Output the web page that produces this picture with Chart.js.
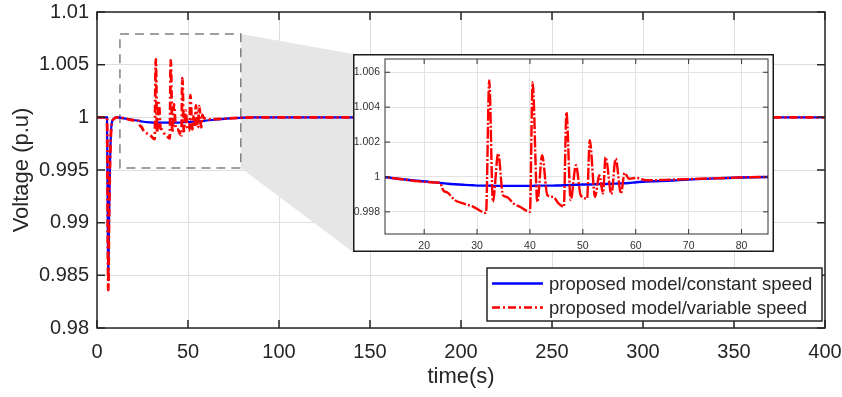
<!DOCTYPE html>
<html lang="en">
<head>
<meta charset="UTF-8">
<title>Voltage (p.u) vs time(s)</title>
<script src="https://cdn.jsdelivr.net/npm/chart.js"></script>
<style>
  html, body { margin: 0; padding: 0; background: #fff; }
  #wrap { position: relative; width: 842px; height: 397px; }
  #mainChart { position: absolute; left: 0; top: 0; }
  #inset { position: absolute; left: 353px; top: 54px; width: 421px; height: 198px; background: #fff; }
</style>
</head>
<body>
<div id="wrap">
  <canvas id="mainChart" width="842" height="397"></canvas>
  <div id="inset"><canvas id="insetChart" width="421" height="198"></canvas></div>
</div>

<script>
    // time axis (s) and the two voltage traces
    const timeS = [0, 5.5, 5.9, 6.2, 6.6, 7.2, 8.0, 9.0, 10.5, 12.6, 15, 18, 21, 23,
        23.6, 24.5, 25.8, 27.4, 29.3, 31.7, 32.3, 33.0, 34.0, 34.9, 35.6, 36.9, 38.1,
        40.0, 40.5, 41.4, 42.3, 43.3, 44.4, 45.4, 46.4, 46.9, 47.7, 48.7, 49.6, 50.8,
        51.3, 52.3, 53.1, 53.8, 54.3, 55.4, 56.2, 57.2, 57.9, 58.7, 60.1, 62, 67, 75,
        85, 150, 250, 400];

    const constantSpeed = [1.0, 1.0, 0.990, 0.9845, 0.990, 0.996, 0.9993, 0.9998, 1.0,
        0.99998, 0.9999, 0.9998, 0.99972, 0.99966,
        0.99964, 0.99961, 0.99958, 0.99955, 0.99952, 0.9995, 0.9995, 0.99949, 0.99949,
        0.99949, 0.99949, 0.99949, 0.99949, 0.99949, 0.99949, 0.9995, 0.9995, 0.9995,
        0.9995, 0.99951, 0.99952, 0.99953, 0.99954, 0.99955, 0.99956, 0.99957, 0.99957,
        0.99958, 0.99959, 0.9996, 0.9996, 0.99961, 0.99962, 0.99963, 0.99964, 0.99965,
        0.9997, 0.99973, 0.9998, 0.99992, 1.0, 1.0, 1.0, 1.0];

    const variableSpeed = [1.0, 1.0, 0.990, 0.9836, 0.990, 0.996, 0.9993, 0.9998, 1.0,
        0.99998, 0.9999, 0.99978, 0.9997, 0.99966,
        0.99924, 0.99909, 0.99867, 0.99848, 0.99829, 0.99794, 1.00553, 0.99857, 1.00134,
        0.99895, 0.99886, 0.99848, 0.99829, 0.998, 1.00543, 0.99857, 1.00124, 0.99895,
        0.99886, 0.99848, 0.99829, 1.00371, 0.99867, 1.00067, 0.99895, 0.99876, 1.0021,
        0.99886, 1.0001, 0.99905, 1.00114, 0.99901, 1.00105, 0.99905, 1.00023, 0.9999,
        0.99994, 0.99981, 0.99985, 0.99992, 1.0, 1.0, 1.0, 1.0];

    const mainXTicks = [0, 50, 100, 150, 200, 250, 300, 350, 400];
    const mainYTicks = [0.98, 0.985, 0.99, 0.995, 1, 1.005, 1.01];
    const mainYLabels = ['0.98', '0.985', '0.99', '0.995', '1', '1.005', '1.01'];
    const insetXTicks = [20, 30, 40, 50, 60, 70, 80];
    const insetYTicks = [0.998, 1, 1.002, 1.004, 1.006];
    const insetYLabels = ['0.998', '1', '1.002', '1.004', '1.006'];

    // zoomed region marked on the main axes (data units)
    const zoomBox = { x0: 12.6, x1: 79, y0: 0.9952, y1: 1.0079 };

    const seriesLabels = ['proposed model/constant speed', 'proposed model/variable speed'];

    Chart.defaults.font.family = '"Liberation Sans", Arial, Helvetica, sans-serif';
    Chart.defaults.color = '#262626';

    const pts = vals => timeS.map((t, i) => ({ x: t, y: vals[i] }));

    function makeDatasets(redWidth, blueWidth, dash) {
        return [
            { label: seriesLabels[0], data: pts(constantSpeed), borderColor: '#0000ff',
              borderWidth: blueWidth, order: 1 },
            { label: seriesLabels[1], data: pts(variableSpeed), borderColor: '#ff0000',
              borderWidth: redWidth, borderDash: dash, order: 0 }
        ];
    }

    // keep the plot area exactly where the layout padding puts it
    const noPadX = h => s => { s.height = h; s.paddingLeft = 0; s.paddingRight = 0; };
    const noPadY = w => s => { s.width = w; s.paddingTop = 0; s.paddingBottom = 0; };

    // box around the axes with inward tick marks (matlab look)
    function drawFrame(chart, len, color, lw) {
        const { ctx, chartArea: a, scales: { x, y } } = chart;
        ctx.save();
        ctx.strokeStyle = color;
        ctx.lineWidth = lw;
        ctx.setLineDash([]);
        ctx.beginPath();
        x.ticks.forEach(t => {
            const px = x.getPixelForValue(t.value);
            ctx.moveTo(px, a.bottom); ctx.lineTo(px, a.bottom - len);
            ctx.moveTo(px, a.top); ctx.lineTo(px, a.top + len);
        });
        y.ticks.forEach(t => {
            const py = y.getPixelForValue(t.value);
            ctx.moveTo(a.left, py); ctx.lineTo(a.left + len, py);
            ctx.moveTo(a.right, py); ctx.lineTo(a.right - len, py);
        });
        ctx.stroke();
        ctx.strokeRect(a.left, a.top, a.right - a.left, a.bottom - a.top);
        ctx.restore();
    }

    const zoomDecor = {
        id: 'zoomDecor',
        beforeDatasetsDraw(chart) {
            const { ctx, scales: { x, y } } = chart;
            const bx0 = x.getPixelForValue(zoomBox.x0), bx1 = x.getPixelForValue(zoomBox.x1);
            const byTop = y.getPixelForValue(zoomBox.y1), byBot = y.getPixelForValue(zoomBox.y0);
            const inset = document.getElementById('inset');
            const ix = inset.offsetLeft, iy = inset.offsetTop, ih = inset.offsetHeight;
            ctx.save();
            ctx.fillStyle = '#e6e6e6';
            ctx.beginPath();
            ctx.moveTo(bx1, byTop);
            ctx.lineTo(ix, iy);
            ctx.lineTo(ix, iy + ih);
            ctx.lineTo(bx1, byBot);
            ctx.closePath();
            ctx.fill();
            ctx.strokeStyle = '#808080';
            ctx.lineWidth = 1.5;
            ctx.setLineDash([9, 6]);
            ctx.strokeRect(bx0, byTop, bx1 - bx0, byBot - byTop);
            ctx.restore();
        }
    };

    const mainFrame = {
        id: 'mainFrame',
        afterDatasetsDraw(chart) { drawFrame(chart, 8, '#262626', 1.5); }
    };

    const legendBox = {
        id: 'legendBox',
        afterDraw(chart) {
            const { ctx, chartArea: a } = chart;
            const x0 = a.right - 338, y0 = a.bottom - 60, w = 335, h = 53;
            ctx.save();
            ctx.fillStyle = '#fff';
            ctx.fillRect(x0, y0, w, h);
            ctx.strokeStyle = '#262626';
            ctx.lineWidth = 1.5;
            ctx.strokeRect(x0, y0, w, h);
            ctx.font = '18.5px "Liberation Sans", Arial, sans-serif';
            ctx.textBaseline = 'middle';
            chart.data.datasets.forEach((ds, i) => {
                const ry = y0 + 15.5 + i * 24;
                ctx.strokeStyle = ds.borderColor;
                ctx.lineWidth = 2.5;
                ctx.setLineDash(ds.borderDash ? [8, 3, 2, 3] : []);
                ctx.beginPath();
                ctx.moveTo(x0 + 5, ry);
                ctx.lineTo(x0 + 56, ry);
                ctx.stroke();
                ctx.setLineDash([]);
                ctx.fillStyle = '#262626';
                ctx.fillText(ds.label, x0 + 62, ry + 1);
            });
            ctx.restore();
        }
    };

    new Chart(document.getElementById('mainChart'), {
        type: 'line',
        data: { datasets: makeDatasets(2.8, 2.2, [8, 3, 2, 3]) },
        options: {
            responsive: false,
            animation: false,
            layout: { padding: { top: 12, right: 17, left: 0, bottom: 0 } },
            elements: { point: { radius: 0 }, line: { tension: 0, cubicInterpolationMode: 'monotone' } },
            plugins: { legend: { display: false }, tooltip: { enabled: false } },
            scales: {
                x: {
                    type: 'linear', min: 0, max: 400,
                    afterBuildTicks: s => { s.ticks = mainXTicks.map(v => ({ value: v })); },
                    afterFit: noPadX(69),
                    grid: { color: '#dedede', lineWidth: 1, drawTicks: false },
                    border: { display: false },
                    ticks: { autoSkip: false, maxRotation: 0, padding: 12, font: { size: 20 },
                             callback: v => String(v) },
                    title: { display: true, text: 'time(s)', font: { size: 22 },
                             padding: { top: 0, bottom: 7 } }
                },
                y: {
                    type: 'linear', min: 0.98, max: 1.01,
                    afterBuildTicks: s => { s.ticks = mainYTicks.map(v => ({ value: v })); },
                    afterFit: noPadY(97),
                    grid: { color: '#dedede', lineWidth: 1, drawTicks: false },
                    border: { display: false },
                    ticks: { autoSkip: false, padding: 8, font: { size: 20 },
                             callback: v => mainYLabels[mainYTicks.indexOf(v)] },
                    title: { display: true, text: 'Voltage (p.u)', font: { size: 22 },
                             padding: { top: 9, bottom: 0 } }
                }
            }
        },
        plugins: [zoomDecor, mainFrame, legendBox]
    });

    const insetFrame = {
        id: 'insetFrame',
        afterDatasetsDraw(chart) { drawFrame(chart, 5, '#333', 1); },
        afterDraw(chart) {
            const { ctx, width, height } = chart;
            ctx.save();
            ctx.strokeStyle = '#1a1a1a';
            ctx.lineWidth = 1.5;
            ctx.strokeRect(0.75, 0.75, width - 1.5, height - 1.5);
            ctx.restore();
        }
    };

    new Chart(document.getElementById('insetChart'), {
        type: 'line',
        data: { datasets: makeDatasets(2.4, 2.4, [12, 2, 2, 2]) },
        options: {
            responsive: false,
            animation: false,
            layout: { padding: { top: 5, right: 6, left: 0, bottom: 0 } },
            elements: { point: { radius: 0 }, line: { tension: 0, cubicInterpolationMode: 'monotone' } },
            plugins: { legend: { display: false }, tooltip: { enabled: false } },
            scales: {
                x: {
                    type: 'linear', min: 12.6, max: 85,
                    afterBuildTicks: s => { s.ticks = insetXTicks.map(v => ({ value: v })); },
                    afterFit: noPadX(18),
                    grid: { color: '#e3e3e3', lineWidth: 1, drawTicks: false },
                    border: { display: false },
                    ticks: { autoSkip: false, maxRotation: 0, padding: 6, color: '#333',
                             font: { size: 10.5 }, callback: v => String(v) }
                },
                y: {
                    type: 'linear', min: 0.99673, max: 1.00676,
                    afterBuildTicks: s => { s.ticks = insetYTicks.map(v => ({ value: v })); },
                    afterFit: noPadY(32),
                    grid: { color: '#e3e3e3', lineWidth: 1, drawTicks: false },
                    border: { display: false },
                    ticks: { autoSkip: false, padding: 5, color: '#333', font: { size: 10.5 },
                             callback: v => insetYLabels[insetYTicks.indexOf(v)] }
                }
            }
        },
        plugins: [insetFrame]
    });
</script>
</body>
</html>
